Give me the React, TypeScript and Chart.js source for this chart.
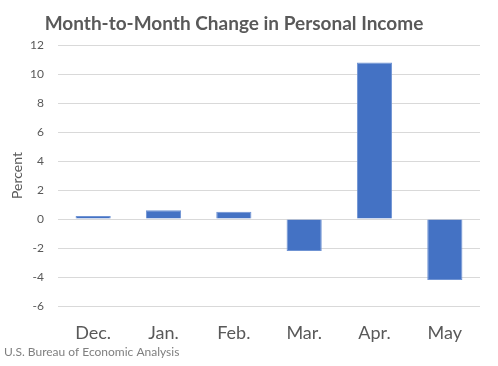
import React, { useEffect, useRef } from "react";
import { Chart, registerables } from "chart.js";

Chart.register(...registerables);

const categories = ["Dec.", "Jan.", "Feb.", "Mar.", "Apr.", "May"];
const values = [0.2, 0.6, 0.5, -2.2, 10.8, -4.2];
const yMin = -6;
const yMax = 12;
const yStep = 2;
const titleText = "Month-to-Month Change in Personal Income";
const yAxisTitle = "Percent";
const sourceText = "U.S. Bureau of Economic Analysis";

const FONT = "Lato, 'Open Sans', sans-serif";

const textPlugin = {
  id: "textPlugin",
  afterDraw(chart: any) {
    const ctx = chart.ctx;
    ctx.save();
    ctx.textBaseline = "alphabetic";
    ctx.fillStyle = "#595959";
    ctx.font = `bold 19px ${FONT}`;
    ctx.textAlign = "center";
    ctx.fillText(titleText, 234, 30);
    ctx.fillStyle = "#7f7f7f";
    ctx.font = `12px ${FONT}`;
    ctx.textAlign = "left";
    ctx.fillText(sourceText, 4, 356);
    ctx.restore();
  },
};

export default function App() {
  const ref = useRef<HTMLCanvasElement | null>(null);

  useEffect(() => {
    document.body.style.margin = "0";
    if (!ref.current) return;
    const chart = new Chart(ref.current, {
      type: "bar",
      data: {
        labels: categories,
        datasets: [
          {
            data: values,
            backgroundColor: "#4472C4",
            borderColor: "#6f93d3",
            borderWidth: 1,
            categoryPercentage: 1,
            barPercentage: 0.5,
          },
        ],
      },
      plugins: [textPlugin],
      options: {
        animation: false,
        responsive: false,
        maintainAspectRatio: false,
        layout: { padding: { left: 0, right: 18, top: 45, bottom: 23 } },
        plugins: {
          legend: { display: false },
          tooltip: { enabled: false },
          title: { display: false },
        },
        scales: {
          x: {
            grid: { display: false, drawTicks: false },
            border: { display: false },
            ticks: {
              color: "#595959",
              font: { family: FONT, size: 18 },
              padding: 16,
            },
            afterFit: (s: any) => {
              s.height = 37;
            },
          },
          y: {
            min: yMin,
            max: yMax,
            grid: { color: "#d9d9d9", drawTicks: false, lineWidth: 1 },
            border: { display: false },
            ticks: {
              stepSize: yStep,
              color: "#595959",
              font: { family: FONT, size: 12 },
              padding: 14,
            },
            title: {
              display: true,
              text: yAxisTitle,
              color: "#595959",
              font: { family: FONT, size: 14 },
              padding: { top: 9, bottom: 0 },
            },
            afterFit: (s: any) => {
              s.width = 58;
            },
          },
        },
      },
    });
    return () => chart.destroy();
  }, []);

  return (
    <div style={{ position: "absolute", left: 0, top: 0, width: 498, height: 366 }}>
      <canvas ref={ref} width={498} height={366} style={{ width: 498, height: 366 }} />
    </div>
  );
}
